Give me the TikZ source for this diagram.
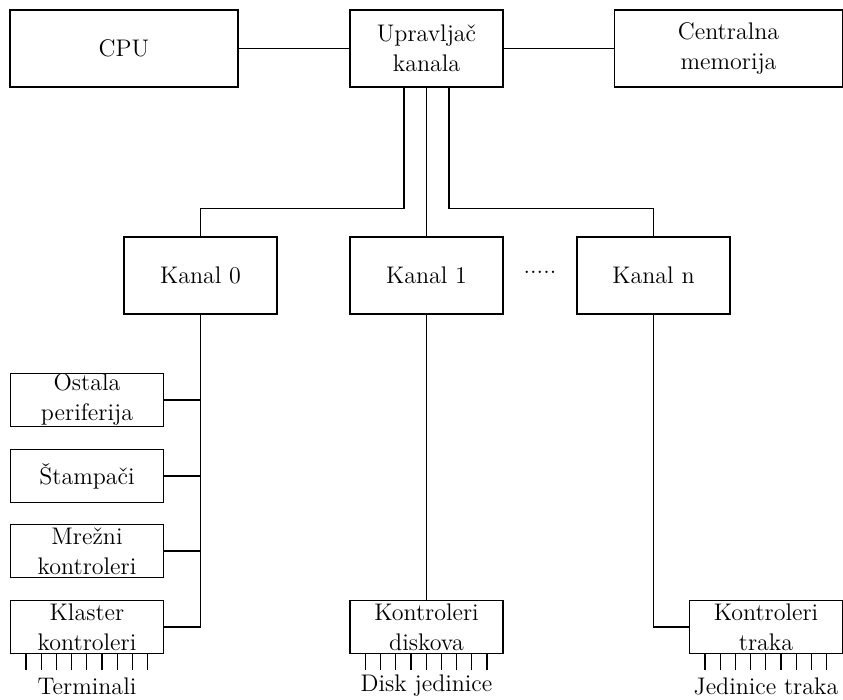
\documentclass[tikz,border=0pt]{standalone}
\usetikzlibrary{positioning}

\begin{document}
\begin{tikzpicture}[x=0.5pt,y=-0.5pt,line width=0.6pt,
  font=\fontsize{12}{15}\selectfont,
  box/.style={draw,align=center,inner sep=0pt},
  big/.style={box,minimum width=76.5pt,minimum height=38.5pt},
  wide/.style={box,minimum width=114pt,minimum height=38.5pt},
  small/.style={box,minimum width=76.5pt,minimum height=26.5pt}]
\useasboundingbox (0,0) rectangle (843,700);

\node[wide] (cpu) at (124,48.5) {CPU};
\node[big]  (upr) at (426.5,48.5) {Upravljač\\kanala};
\node[wide] (mem) at (728.5,48.5) {Centralna\\memorija};

\node[big] (k0) at (200.5,275.5) {Kanal 0};
\node[big] (k1) at (426.5,275.5) {Kanal 1};
\node[big] (kn) at (653.5,275.5) {Kanal n};
\node (dots) at (540,272) {.....};

\node[small] (ost) at (87,400) {Ostala\\periferija};
\node[small] (stm) at (87,476) {Štampači};
\node[small] (mrz) at (87,551) {Mrežni\\kontroleri};
\node[small] (kls) at (87,627) {Klaster\\kontroleri};
\node[small] (dsk) at (426.5,627) {Kontroleri\\diskova};
\node[small] (trk) at (766,627) {Kontroleri\\traka};

\draw (cpu) -- (upr);
\draw (upr) -- (mem);
\draw ([xshift=-11.25pt]upr.south) -- ++(0,121) -| (k0.north);
\draw (upr.south) -- (k1.north);
\draw ([xshift=11.25pt]upr.south) -- ++(0,121) -| (kn.north);

\draw (k0.south) |- (kls.east);
\foreach \b in {ost,stm,mrz}
  \draw (\b.east) -- (\b.east -| k0.south);
\draw (k1.south) -- (dsk.north);
\draw (kn.south) |- (trk.west);

% ticks
\foreach \b in {kls,dsk,trk}
  \foreach \i in {0,...,8}
    \draw ([xshift=8pt+\i*7.6pt]\b.south west) -- ++(0,16);

\node (term) at (87,686) {Terminali};
\node (dskj) at (426.5,686) {Disk jedinice};
\node (trkj) at (766,686) {Jedinice traka};

\end{tikzpicture}
\end{document}
